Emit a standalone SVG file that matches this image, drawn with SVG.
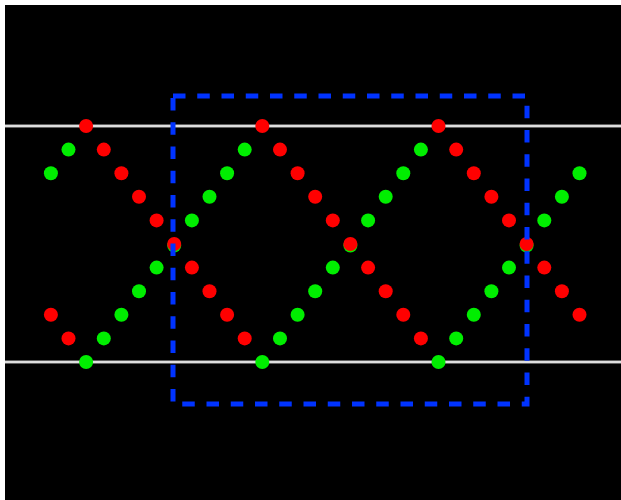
<svg xmlns="http://www.w3.org/2000/svg" width="621" height="500" viewBox="0 0 621 500">
<style>
.r{fill:#ff0000}
.g{fill:#00ee00}
.ln{stroke:#bdbdbd;stroke-width:3;fill:none}
.lc{stroke:#ffffff;stroke-width:1;fill:none}
.box{fill:none;stroke:#0033ff;stroke-width:5;stroke-dasharray:12.5 11.75}
</style>
<rect x="0" y="0" width="621" height="500" fill="#ffffff"/>
<rect x="5" y="5" width="616" height="495" fill="#000000"/>
<g id="levels">
<line class="ln" x1="5" y1="126" x2="621" y2="126"/>
<line class="lc" x1="5" y1="126" x2="621" y2="126"/>
<line class="ln" x1="5" y1="362" x2="621" y2="362"/>
<line class="lc" x1="5" y1="362" x2="621" y2="362"/>
</g>
<g id="green">
<circle class="g" r="7" cx="50.9" cy="173.2"/>
<circle class="g" r="7" cx="68.5" cy="149.6"/>
<circle class="g" r="7" cx="86.1" cy="362"/>
<circle class="g" r="7" cx="103.8" cy="338.4"/>
<circle class="g" r="7" cx="121.4" cy="314.8"/>
<circle class="g" r="7" cx="139" cy="291.2"/>
<circle class="g" r="7" cx="156.6" cy="267.6"/>
<circle class="g" r="7" cx="174.2" cy="245.5"/>
<circle class="g" r="7" cx="191.9" cy="220.4"/>
<circle class="g" r="7" cx="209.5" cy="196.8"/>
<circle class="g" r="7" cx="227.1" cy="173.2"/>
<circle class="g" r="7" cx="244.7" cy="149.6"/>
<circle class="g" r="7" cx="262.3" cy="362"/>
<circle class="g" r="7" cx="280" cy="338.4"/>
<circle class="g" r="7" cx="297.6" cy="314.8"/>
<circle class="g" r="7" cx="315.2" cy="291.2"/>
<circle class="g" r="7" cx="332.8" cy="267.6"/>
<circle class="g" r="7" cx="350.4" cy="245.5"/>
<circle class="g" r="7" cx="368.1" cy="220.4"/>
<circle class="g" r="7" cx="385.7" cy="196.8"/>
<circle class="g" r="7" cx="403.3" cy="173.2"/>
<circle class="g" r="7" cx="420.9" cy="149.6"/>
<circle class="g" r="7" cx="438.5" cy="362"/>
<circle class="g" r="7" cx="456.2" cy="338.4"/>
<circle class="g" r="7" cx="473.8" cy="314.8"/>
<circle class="g" r="7" cx="491.4" cy="291.2"/>
<circle class="g" r="7" cx="509" cy="267.6"/>
<circle class="g" r="7" cx="526.6" cy="245.5"/>
<circle class="g" r="7" cx="544.3" cy="220.4"/>
<circle class="g" r="7" cx="561.9" cy="196.8"/>
<circle class="g" r="7" cx="579.5" cy="173.2"/>
</g>
<g id="red">
<circle class="r" r="7" cx="50.9" cy="314.8"/>
<circle class="r" r="7" cx="68.5" cy="338.4"/>
<circle class="r" r="7" cx="86.1" cy="126"/>
<circle class="r" r="7" cx="103.8" cy="149.6"/>
<circle class="r" r="7" cx="121.4" cy="173.2"/>
<circle class="r" r="7" cx="139" cy="196.8"/>
<circle class="r" r="7" cx="156.6" cy="220.4"/>
<circle class="r" r="7" cx="174.2" cy="244"/>
<circle class="r" r="7" cx="191.9" cy="267.6"/>
<circle class="r" r="7" cx="209.5" cy="291.2"/>
<circle class="r" r="7" cx="227.1" cy="314.8"/>
<circle class="r" r="7" cx="244.7" cy="338.4"/>
<circle class="r" r="7" cx="262.3" cy="126"/>
<circle class="r" r="7" cx="280" cy="149.6"/>
<circle class="r" r="7" cx="297.6" cy="173.2"/>
<circle class="r" r="7" cx="315.2" cy="196.8"/>
<circle class="r" r="7" cx="332.8" cy="220.4"/>
<circle class="r" r="7" cx="350.4" cy="244"/>
<circle class="r" r="7" cx="368.1" cy="267.6"/>
<circle class="r" r="7" cx="385.7" cy="291.2"/>
<circle class="r" r="7" cx="403.3" cy="314.8"/>
<circle class="r" r="7" cx="420.9" cy="338.4"/>
<circle class="r" r="7" cx="438.5" cy="126"/>
<circle class="r" r="7" cx="456.2" cy="149.6"/>
<circle class="r" r="7" cx="473.8" cy="173.2"/>
<circle class="r" r="7" cx="491.4" cy="196.8"/>
<circle class="r" r="7" cx="509" cy="220.4"/>
<circle class="r" r="7" cx="526.6" cy="244"/>
<circle class="r" r="7" cx="544.3" cy="267.6"/>
<circle class="r" r="7" cx="561.9" cy="291.2"/>
<circle class="r" r="7" cx="579.5" cy="314.8"/>
</g>
<g id="window">
<path class="box" d="M173 96 H527 V404 H173 Z"/>
</g>
</svg>
